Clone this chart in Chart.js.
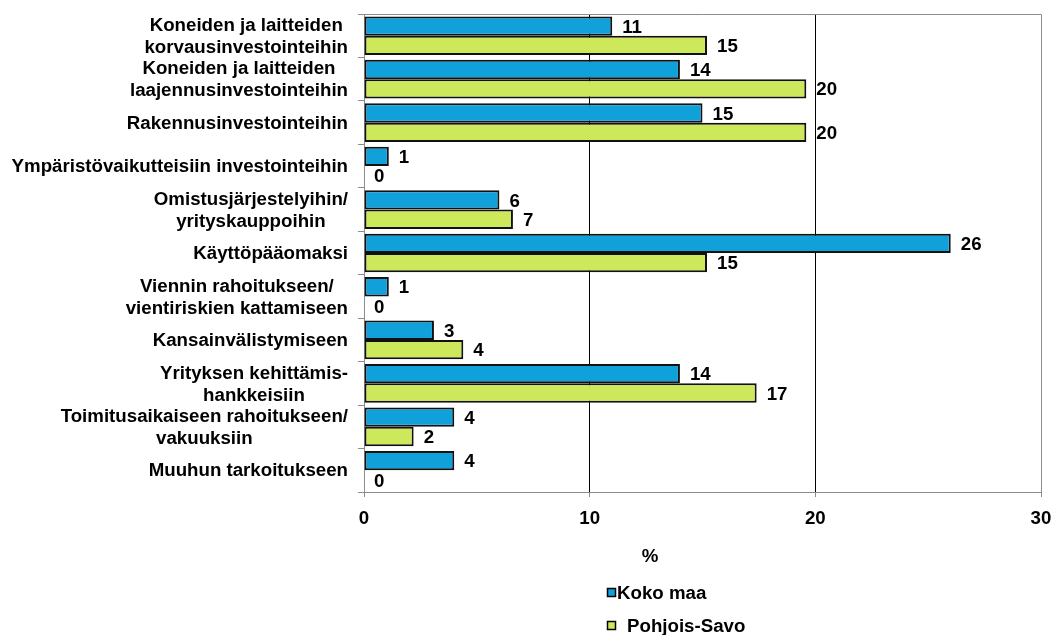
<!DOCTYPE html>
<html>
<head>
<meta charset="utf-8">
<script src="https://cdn.jsdelivr.net/npm/chart.js@4.4.1/dist/chart.umd.min.js"></script>
<style>
  html, body { margin: 0; padding: 0; background: #fff; }
  #wrap { width: 1051px; height: 635px; }
</style>
</head>
<body>
<div id="wrap"><canvas id="chart" width="1051" height="635"></canvas></div>
<script>
// Categories (multi-line labels as arrays)
const categories = [
  ["Koneiden ja laitteiden", "korvausinvestointeihin"],
  ["Koneiden ja laitteiden", "laajennusinvestointeihin"],
  "Rakennusinvestointeihin",
  "Ympäristövaikutteisiin investointeihin",
  ["Omistusjärjestelyihin/", "yrityskauppoihin"],
  "Käyttöpääomaksi",
  ["Viennin rahoitukseen/", "vientiriskien kattamiseen"],
  "Kansainvälistymiseen",
  ["Yrityksen kehittämis-", "hankkeisiin"],
  ["Toimitusaikaiseen rahoitukseen/", "vakuuksiin"],
  "Muuhun tarkoitukseen"
];

// Series values (%)
const kokoMaa = [11.0, 14.0, 15.0, 1.1, 6.0, 26.0, 1.1, 3.1, 14.0, 4.0, 4.0];
const pohjoisSavo = [15.2, 19.6, 19.6, 0, 6.6, 15.2, 0, 4.4, 17.4, 2.2, 0];

const seriesNames = ["Koko maa", "Pohjois-Savo"];
const xTicks = [0, 10, 20, 30];
const axisTitle = "%";

const FONT = "'Liberation Sans', Arial, sans-serif";
const FS = 18.7;

// Category labels: block right-aligned, lines centered among themselves
const categoryLabels = {
  id: "categoryLabels",
  afterDraw(chart) {
    const ctx = chart.ctx;
    const y = chart.scales.y;
    const right = y.right - 16;
    ctx.save();
    ctx.font = "bold " + FS + "px " + FONT;
    ctx.fillStyle = "#000";
    ctx.textAlign = "center";
    ctx.textBaseline = "middle";
    chart.data.labels.forEach((lab, i) => {
      const lines = Array.isArray(lab) ? lab : [lab];
      const w = Math.max(...lines.map(l => ctx.measureText(l).width));
      const cy = y.getPixelForValue(i) + 1;
      lines.forEach((l, j) => {
        ctx.fillText(l, right - w / 2, cy + (j - (lines.length - 1) / 2) * 22);
      });
    });
    ctx.restore();
  }
};

// Value labels at bar ends
const valueLabels = {
  id: "valueLabels",
  afterDatasetsDraw(chart) {
    const ctx = chart.ctx;
    ctx.save();
    ctx.font = "bold " + FS + "px " + FONT;
    ctx.fillStyle = "#000";
    ctx.textAlign = "left";
    ctx.textBaseline = "middle";
    chart.data.datasets.forEach((ds, di) => {
      chart.getDatasetMeta(di).data.forEach((bar, i) => {
        const p = bar.getProps(["x", "y"], true);
        ctx.fillText(String(Math.round(ds.data[i])), p.x + 10, p.y + 1.5);
      });
    });
    ctx.restore();
  }
};

// Plot border, axis title and vertical legend
const extras = {
  id: "extras",
  beforeDatasetsDraw(chart) {
    const a = chart.chartArea;
    const ctx = chart.ctx;
    ctx.save();
    ctx.strokeStyle = "#8c8c8c";
    ctx.lineWidth = 1;
    ctx.beginPath();
    ctx.moveTo(a.left, Math.round(a.top) + 0.5);
    ctx.lineTo(a.right + 0.5, Math.round(a.top) + 0.5);
    ctx.lineTo(a.right + 0.5, a.bottom);
    ctx.stroke();
    ctx.restore();
  },
  afterDraw(chart) {
    const ctx = chart.ctx;
    ctx.save();
    ctx.font = "bold " + FS + "px " + FONT;
    ctx.fillStyle = "#000";
    ctx.textBaseline = "middle";
    ctx.textAlign = "center";
    ctx.fillText(axisTitle, 650, 557);
    ctx.textAlign = "left";
    const rows = [593, 626];
    const textX = [617, 627];
    chart.data.datasets.forEach((ds, i) => {
      ctx.fillStyle = ds.backgroundColor;
      ctx.fillRect(607.5, rows[i] - 4.5, 8, 8);
      ctx.strokeStyle = "#000";
      ctx.lineWidth = 1.5;
      ctx.strokeRect(607.5, rows[i] - 4.5, 8, 8);
      ctx.fillStyle = "#000";
      ctx.fillText(ds.label, textX[i], rows[i] + 1);
    });
    ctx.restore();
  }
};

new Chart(document.getElementById("chart"), {
  type: "bar",
  data: {
    labels: categories,
    datasets: [
      {
        label: seriesNames[0],
        data: kokoMaa,
        backgroundColor: "#10a0da",
        borderColor: "#111",
        borderWidth: 2,
        borderSkipped: false
      },
      {
        label: seriesNames[1],
        data: pohjoisSavo,
        backgroundColor: "#cde85a",
        borderColor: "#111",
        borderWidth: 2,
        borderSkipped: false
      }
    ]
  },
  options: {
    indexAxis: "y",
    responsive: false,
    animation: false,
    devicePixelRatio: 1,
    layout: { padding: { top: 14, right: 10, bottom: 0, left: 0 } },
    datasets: { bar: { categoryPercentage: 0.89, barPercentage: 1 } },
    plugins: { legend: { display: false }, tooltip: { enabled: false } },
    scales: {
      x: {
        min: 0,
        max: 30,
        afterBuildTicks: s => { s.ticks = xTicks.map(v => ({ value: v })); },
        ticks: {
          color: "#000",
          padding: 11,
          font: { family: FONT, size: FS, weight: "bold" }
        },
        grid: {
          color: c => (c.tick && (c.tick.value === 10 || c.tick.value === 20)) ? "#000" : "rgba(0,0,0,0)",
          tickColor: "#8c8c8c",
          tickLength: 5,
          lineWidth: 1
        },
        border: { color: "#8c8c8c", width: 1 },
        afterFit: s => { s.height = 143; s.paddingLeft = 0; s.paddingRight = 0; }
      },
      y: {
        ticks: { display: false },
        grid: {
          offset: true,
          drawOnChartArea: false,
          tickColor: "#8c8c8c",
          tickLength: 6
        },
        border: { color: "#8c8c8c", width: 1 },
        afterFit: s => { s.width = 364; }
      }
    }
  },
  plugins: [extras, valueLabels, categoryLabels]
});
</script>
</body>
</html>
